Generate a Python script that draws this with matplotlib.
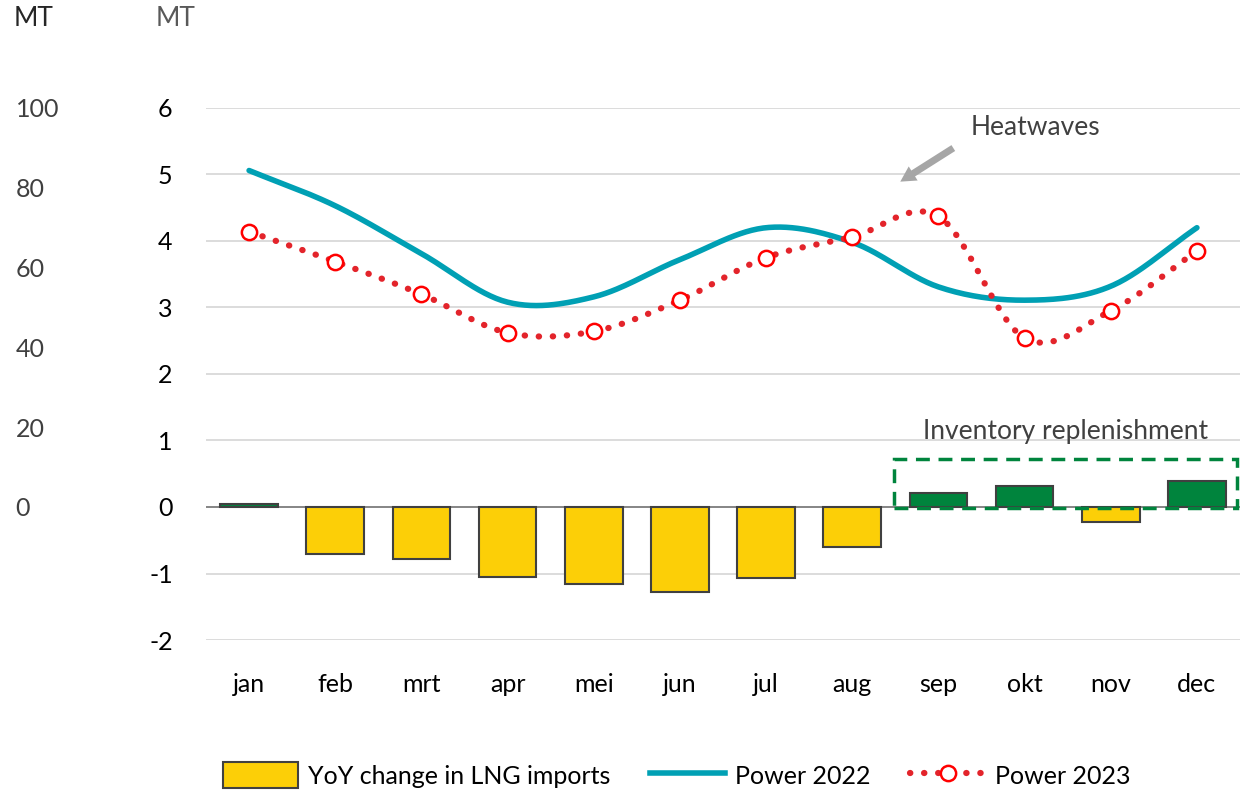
import numpy as np
import matplotlib
matplotlib.use('Agg')
import matplotlib.pyplot as plt
from matplotlib.patches import Rectangle, Patch
from matplotlib.lines import Line2D

plt.rcParams['font.family'] = ['Lato', 'DejaVu Sans']

months = ['jan', 'feb', 'mrt', 'apr', 'mei', 'jun',
          'jul', 'aug', 'sep', 'okt', 'nov', 'dec']
lng_yoy = [0.05, -0.71, -0.78, -1.05, -1.16, -1.28,
           -1.07, -0.60, 0.21, 0.32, -0.22, 0.39]
power_2022 = [5.06, 4.53, 3.81, 3.08, 3.16, 3.72,
              4.20, 3.98, 3.31, 3.11, 3.32, 4.20]
power_2023 = [4.14, 3.69, 3.20, 2.62, 2.64, 3.11,
              3.75, 4.06, 4.37, 2.54, 2.95, 3.85]
inner_ticks = [-2, -1, 0, 1, 2, 3, 4, 5, 6]
outer_ticks = [0, 20, 40, 60, 80, 100]

YELLOW = '#FCCF07'
GREEN = '#00843D'
TEAL = '#00A0B4'
RED = '#E3242B'
DOTS = (0, (0.05, 2.2))


def catmull_rom(xs, ys, n=30):
    # smooth curve through the points, like a spreadsheet "smoothed line"
    xs = np.asarray(xs, float)
    ys = np.asarray(ys, float)
    px = np.concatenate([[2 * xs[0] - xs[1]], xs, [2 * xs[-1] - xs[-2]]])
    py = np.concatenate([[2 * ys[0] - ys[1]], ys, [2 * ys[-1] - ys[-2]]])
    out_x, out_y = [], []
    t = np.linspace(0, 1, n, endpoint=False)
    for i in range(1, len(px) - 2):
        for p, out in ((px, out_x), (py, out_y)):
            p0, p1, p2, p3 = p[i - 1], p[i], p[i + 1], p[i + 2]
            seg = 0.5 * ((2 * p1) + (-p0 + p2) * t
                         + (2 * p0 - 5 * p1 + 4 * p2 - p3) * t ** 2
                         + (-p0 + 3 * p1 - 3 * p2 + p3) * t ** 3)
            out.extend(seg)
    out_x.append(xs[-1])
    out_y.append(ys[-1])
    return np.array(out_x), np.array(out_y)


fig = plt.figure(figsize=(12.51, 7.91), dpi=100)
ax = fig.add_axes([206 / 1251, 1 - 640 / 791, 1034 / 1251, 532 / 791])

x = np.arange(len(months))
colors = [GREEN if v >= 0 else YELLOW for v in lng_yoy]
ax.bar(x, lng_yoy, width=0.67, color=colors, edgecolor='#404040',
       linewidth=1.5, zorder=3)

sx, sy = catmull_rom(x, power_2022)
ax.plot(sx, sy, color=TEAL, lw=4, solid_capstyle='round', zorder=4)

sx, sy = catmull_rom(x, power_2023)
ax.plot(sx, sy, color=RED, lw=4.5, linestyle=DOTS,
        dash_capstyle='round', zorder=4)
ax.plot(x, power_2023, linestyle='none', marker='o', ms=11,
        mfc='white', mec='#FF0000', mew=1.8, zorder=5)

ax.set_xlim(-0.5, 11.5)
ax.set_ylim(-2, 6)
ax.set_yticks(inner_ticks)
ax.set_yticklabels([str(t) for t in inner_ticks])
ax.set_xticks(x)
ax.set_xticklabels(months)
ax.tick_params(axis='both', length=0, labelsize=18, labelcolor='black')
ax.tick_params(axis='y', pad=24)
ax.tick_params(axis='x', pad=24)
ax.grid(axis='y', color='#D9D9D9', lw=1.3, zorder=0)
ax.axhline(0, color='#808080', lw=1.3, zorder=2)
for s in ax.spines.values():
    s.set_visible(False)

# outer scale on the far left
ax2 = ax.twinx()
ax2.set_ylim(-2 * 100 / 6, 100)
ax2.set_yticks(outer_ticks)
ax2.yaxis.tick_left()
ax2.tick_params(axis='y', length=0, labelsize=18, labelcolor='#404040', pad=137)
for lab in ax2.get_yticklabels():
    lab.set_horizontalalignment('left')
for s in ax2.spines.values():
    s.set_visible(False)

fig.text(14 / 1251, 1 - 19 / 791, 'MT', fontsize=19, color='#262626',
         ha='left', va='center')
fig.text(195 / 1251, 1 - 19 / 791, 'MT', fontsize=19, color='#595959',
         ha='right', va='center')

# annotations
ax.annotate('', xy=(7.53, 4.87), xytext=(8.2, 5.42),
            arrowprops=dict(arrowstyle='simple,head_width=1.2,head_length=1.1,tail_width=0.5',
                            color='#A6A6A6', lw=0), zorder=6)
ax.text(9.13, 5.70, 'Heatwaves', fontsize=19, color='#404040',
        ha='center', va='center')
ax.text(9.47, 1.13, 'Inventory replenishment', fontsize=19, color='#404040',
        ha='center', va='center')
ax.add_patch(Rectangle((7.49, -0.01), 3.97, 0.73, fill=False,
                       edgecolor=GREEN, lw=2.5, linestyle=(0, (4, 2.5)),
                       zorder=6))

handles = [
    Patch(facecolor=YELLOW, edgecolor='#404040', lw=1.5),
    Line2D([], [], color=TEAL, lw=4),
    Line2D([], [], color=RED, lw=4.5, linestyle=DOTS,
           dash_capstyle='round', marker='o', ms=11, mfc='white',
           mec='#FF0000', mew=1.8),
]
fig.legend(handles, ['YoY change in LNG imports', 'Power 2022', 'Power 2023'],
           loc='center', bbox_to_anchor=(0.541, 0.02), ncol=3, frameon=False,
           fontsize=18, handlelength=3.0, handleheight=1.2,
           columnspacing=1.6, handletextpad=0.4, labelcolor='black')

fig.savefig('out.png', dpi=100)
